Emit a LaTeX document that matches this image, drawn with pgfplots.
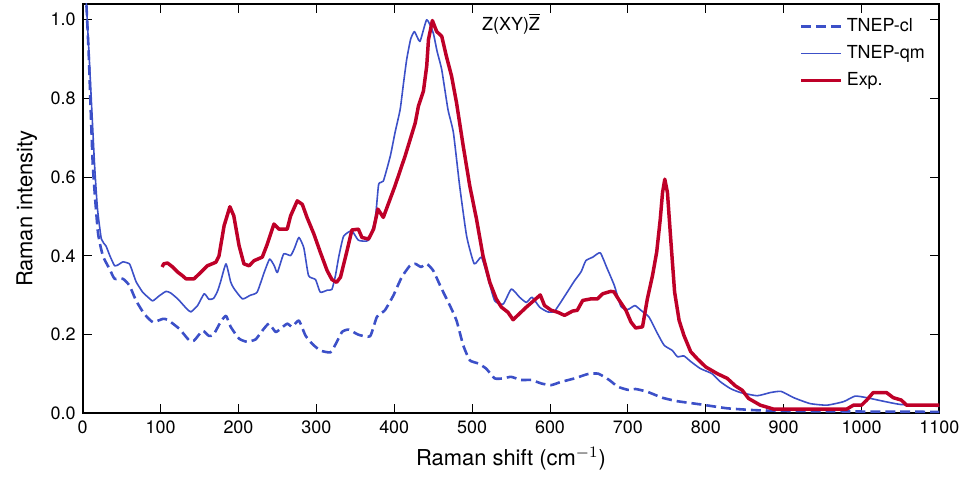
\documentclass[border=0pt]{standalone}
\usepackage{pgfplots}
\pgfplotsset{compat=1.18}
\usepackage{fontspec}
\setmainfont{TeX Gyre Heros}
\definecolor{cblue}{RGB}{60,80,200}
\definecolor{cred}{RGB}{190,0,40}
\begin{document}
\begin{tikzpicture}
\begin{axis}[
  scale only axis,
  width=430pt, height=205.5pt,
  xmin=0, xmax=1100, ymin=0, ymax=1.04,
  xtick={0,100,...,1100},
  ytick={0,0.2,0.4,0.6,0.8,1.0},
  xticklabel style={/pgf/number format/set thousands separator={}},
  yticklabel style={/pgf/number format/fixed,/pgf/number format/fixed zerofill,/pgf/number format/precision=1},
  /pgf/number format/assume math mode=true,
  tick label style={font=\fontsize{9}{10}\selectfont},
  label style={font=\fontsize{11}{12}\selectfont},
  xlabel={Raman shift (cm$^{-1}$)},
  ylabel={Raman intensity},
  tick align=inside,
  major tick length=4.5pt,
  tick style={black, line width=0.5pt},
  axis line style={line width=1pt},
  legend style={draw=none, fill=none, at={(0.995,0.985)}, anchor=north east, font=\fontsize{9}{10}\selectfont, row sep=1.5pt},
  legend cell align=left,
  legend image code/.code={\draw[#1] (0pt,0pt) -- (20pt,0pt);},
]
\addplot[cblue, line width=1.3pt, dash pattern=on 5pt off 2.5pt, line join=round, smooth, tension=0.3] coordinates {
(2,1.15) (5,1.03) (8,0.90) (13,0.63) (19.6,0.46) (26,0.40) (34.5,0.367) (41,0.342) (51.6,0.342) (60,0.325)
(68.7,0.286) (79,0.253) (90,0.232) (102.7,0.24) (109,0.238) (124,0.215) (137,0.185) (143,0.185) (154,0.21)
(162,0.197) (168,0.20) (177,0.232) (184,0.248) (190,0.22) (200.8,0.19) (211,0.182) (222,0.188) (230.6,0.21)
(239,0.228) (247.7,0.207) (254,0.215) (262.6,0.228) (269,0.22) (277.6,0.236) (286,0.198) (294.6,0.177)
(305,0.16) (318,0.155) (324.5,0.175) (333,0.207) (341.5,0.213) (354,0.20) (369,0.196) (377.7,0.245)
(388,0.262) (399,0.30) (409.6,0.346) (420,0.375) (427,0.38) (434.5,0.372) (441.7,0.38) (450,0.363)
(461,0.316) (471.5,0.274) (480,0.236) (488.6,0.173) (497,0.135) (507.8,0.127) (518,0.114) (529,0.089)
(540,0.089) (550,0.093) (563,0.085) (576,0.085) (589,0.076) (601.6,0.072) (614,0.08) (631.5,0.089)
(648.5,0.10) (662,0.101) (676,0.085) (687,0.068) (700,0.06) (710,0.062) (725,0.055) (744,0.04)
(763.6,0.031) (793,0.023) (827.6,0.013) (866,0.008) (913,0.006) (977,0.005) (1100,0.004)
};
\addlegendentry{TNEP-cl}
\addplot[cblue, line width=0.8pt, line join=round, smooth, tension=0.3] coordinates {
(2,1.15) (5,1.03) (8,0.92) (11,0.80) (15.3,0.63) (19,0.52) (24,0.443) (30,0.425) (35,0.40) (41,0.375)
(46,0.378) (51.6,0.385) (60,0.38) (64,0.36) (68.7,0.334) (77,0.308) (84,0.295) (90,0.286) (98.5,0.299)
(107,0.31) (113,0.306) (122,0.291) (128,0.278) (134,0.265) (139,0.258) (147.5,0.274) (156,0.304)
(162,0.29) (168,0.292) (173,0.31) (177,0.334) (184,0.38) (190,0.334) (194,0.318) (205,0.291) (215,0.30)
(224,0.308) (233,0.358) (240,0.392) (246,0.375) (250,0.358) (258,0.405) (267,0.401) (272,0.42)
(277.6,0.447) (284,0.42) (290,0.35) (299,0.34) (305,0.308) (314,0.313) (320,0.315) (324.5,0.35)
(329,0.40) (335,0.45) (345.5,0.464) (354,0.44) (367,0.44) (375.6,0.494) (380,0.582) (386,0.59)
(395,0.654) (401,0.713) (407.6,0.772) (412,0.84) (416,0.899) (421,0.95) (426,0.97) (433,0.945)
(441.7,1.0) (450,0.967) (455,0.92) (461,0.873) (469,0.772) (476,0.713) (484,0.578) (493,0.45)
(502.7,0.38) (512,0.397) (520.6,0.342) (529,0.286) (540,0.278) (550.4,0.316) (561,0.295) (569.6,0.282)
(577,0.295) (586.7,0.27) (597,0.258) (606,0.26) (620.8,0.304) (631.5,0.337) (640,0.36) (646,0.388)
(655,0.397) (664.5,0.408) (673,0.37) (682.6,0.325) (691,0.272) (700,0.264) (709,0.274) (716.7,0.262)
(727,0.245) (738,0.203) (746.6,0.173) (757,0.16) (763.6,0.144) (772,0.146) (780.6,0.132) (793,0.114)
(808,0.101) (819,0.08) (831.8,0.063) (844.6,0.053) (866,0.045) (883,0.053) (896.7,0.056) (912.9,0.04)
(934,0.025) (955.5,0.021) (977,0.03) (991.7,0.044) (1006.7,0.04) (1028,0.031) (1049,0.023) (1075,0.02)
(1100,0.018)
};
\addlegendentry{TNEP-qm}
\addplot[cred, line width=1.75pt, line join=round] coordinates {
(102,0.372) (104,0.38) (109,0.382) (115.5,0.372) (122,0.359) (128,0.35) (132.6,0.342) (143,0.342)
(152,0.359) (160,0.375) (171,0.384) (175,0.40) (181.6,0.477) (189,0.525) (194,0.502) (200.8,0.426)
(207,0.38) (213.6,0.375) (220,0.388) (230.6,0.397) (237,0.43) (245.6,0.481) (252,0.468) (262.6,0.468)
(267,0.502) (275.5,0.54) (282,0.531) (288,0.498) (296.8,0.456) (305,0.41) (313.8,0.363) (320,0.34)
(326,0.333) (331,0.346) (339,0.41) (345.7,0.466) (354,0.468) (358.5,0.447) (367,0.443) (373.5,0.468)
(379,0.519) (386,0.498) (401,0.578) (414,0.654) (427,0.738) (431,0.78) (437.5,0.819) (441.7,0.882)
(444,0.95) (449,0.998) (454.5,0.97) (461,0.958) (467,0.907) (473.6,0.857) (480,0.789) (488.6,0.679)
(497,0.578) (505.6,0.494) (514,0.40) (522.7,0.333) (531,0.291) (537.6,0.27) (546,0.257) (552.6,0.238)
(569.6,0.27) (587.5,0.301) (593,0.274) (601.6,0.262) (610,0.257) (618.7,0.249) (629,0.26) (635,0.262)
(642,0.287) (652.7,0.291) (661,0.291) (667.7,0.304) (678,0.31) (682,0.309) (689,0.287) (697.5,0.262)
(704,0.232) (710,0.217) (718.8,0.22) (725,0.291) (731.6,0.35) (737,0.41) (741.5,0.492) (744.5,0.561)
(747.4,0.595) (750.8,0.561) (755,0.443) (760,0.308) (765.8,0.236) (772,0.198) (780.6,0.157) (789,0.139)
(800,0.118) (814.8,0.101) (827.6,0.089) (838,0.07) (846.7,0.059) (855,0.038) (870,0.021) (887,0.011)
(981,0.011) (989.6,0.021) (1000,0.021) (1006.7,0.034) (1015,0.053) (1032,0.053) (1040.7,0.04)
(1051,0.034) (1057.8,0.021) (1100,0.021)
};
\addlegendentry{Exp.}
\node[font=\fontsize{9}{10}\selectfont] at (axis cs:550,0.99) {Z(XY)$\overline{\mbox{Z}}$};
\end{axis}
\path (current axis.south west) ++(-41.5pt,-37pt) coordinate (bl);
\path (current axis.north east) ++(11.5pt,2pt) coordinate (tr);
\path (bl) rectangle (tr);
\end{tikzpicture}
\end{document}
